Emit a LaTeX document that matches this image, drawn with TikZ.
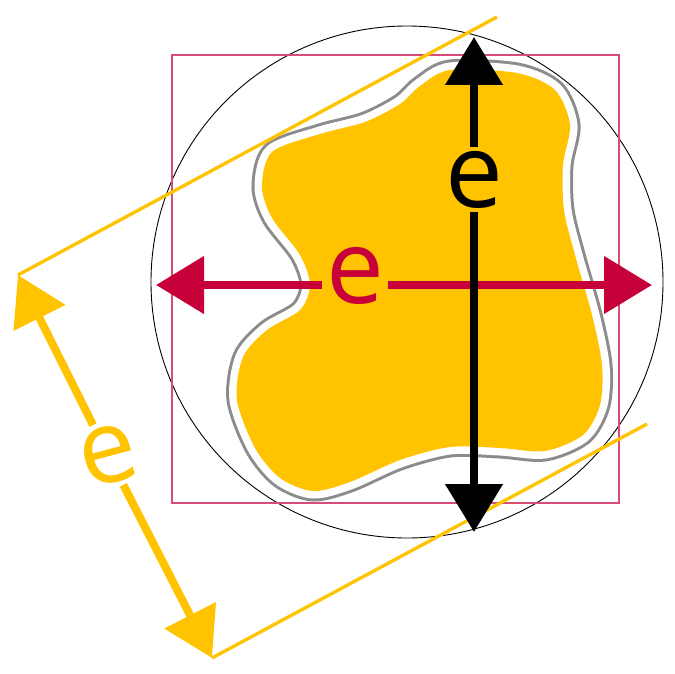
\documentclass[tikz,border=0pt]{standalone}
\usepackage{fontspec}
\setmainfont{Open Sans}
\usepackage{tikz}
\usetikzlibrary{arrows.meta}
\definecolor{feretYellow}{RGB}{255,195,0}
\definecolor{feretRed}{RGB}{200,0,58}
\definecolor{ringGray}{RGB}{140,140,140}
\newcommand{\blobpath}{plot[smooth cycle] coordinates {(450,70) (517,73) (555,90) (570,125) (563,165) (564,210) (575,255) (592,315) (602,365) (600,405) (583,435) (545,451) (500,448) (450,447) (400,460) (350,482) (313,491) (280,478) (255,448) (237,400) (243,357) (267,330) (300,310) (310,285) (300,255) (272,218) (262,187) (272,152) (320,134) (365,122) (400,104) (420,86)}}

\begin{document}
\begin{tikzpicture}[x=1pt, y=-1pt,
    elabel/.style={font=\fontsize{103pt}{103pt}\selectfont, inner sep=4pt},
    tip/.style={-{Triangle[length=48pt, width=56pt]}},
    shaft/.style={line width=8pt, tip}]
    \useasboundingbox (0,0) rectangle (675,674);

    % Circle and square round the shape
    \draw[line width=0.9pt] (407,282) circle (256);
    \draw[line width=1.3pt, feretRed!70] (172,55) rectangle (619,503);

    % The shape, with its grey ring
    \draw[ringGray, line width=21pt] \blobpath;
    \draw[white, line width=15pt] \blobpath;
    \fill[feretYellow] \blobpath;

    % End points
    \coordinate (vtop) at (474,37);
    \coordinate (vbot) at (474,532);
    \coordinate (hleft) at (156,285);
    \coordinate (hright) at (652,285);
    \coordinate (dtop) at (18,275);
    \coordinate (dbot) at (212,658);
    \coordinate (ttop) at (497,17);
    \coordinate (tbot) at (647,424);

    % Tangent lines and their distance
    \draw[feretYellow, line width=3.3pt] (dtop) -- (ttop);
    \draw[feretYellow, line width=3.3pt] (dbot) -- (tbot);
    \node[elabel, text=feretYellow, rotate=15] (ed) at (108,455) {e};
    \draw[shaft, feretYellow] (ed) -- (dtop);
    \draw[shaft, feretYellow] (ed) -- (dbot);

    % Horizontal width
    \node[elabel, text=feretRed] (eh) at (355,276) {e};
    \draw[shaft, feretRed] (eh.west |- hleft) -- (hleft);
    \draw[shaft, feretRed] (eh.east |- hright) -- (hright);

    % Vertical height
    \node[elabel] (ev) at (474,179.5) {e};
    \draw[shaft] (ev) -- (vtop);
    \draw[shaft] (ev) -- (vbot);
\end{tikzpicture}
\end{document}
